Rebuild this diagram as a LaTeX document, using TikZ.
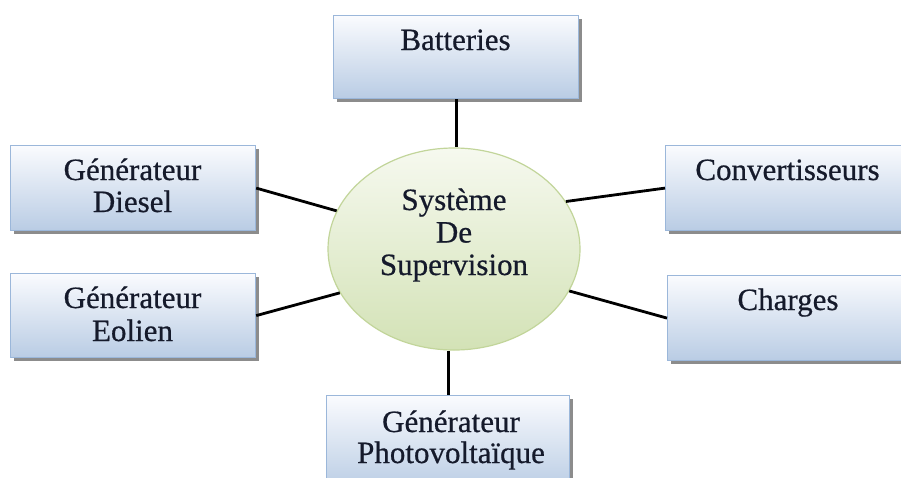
\documentclass[tikz,border=0pt]{standalone}
\usepackage{fontspec}
\setmainfont{Liberation Serif}[FakeBold=0.6]
\newfontfamily\lblfont{Liberation Serif}[FakeBold=0.6]
\usetikzlibrary{shapes.geometric,shadows}
\definecolor{boxtop}{HTML}{FAFBFE}
\definecolor{boxbot}{HTML}{B9CCE4}
\definecolor{boxline}{HTML}{9BB7DA}
\definecolor{elltop}{HTML}{F6F9EF}
\definecolor{ellbot}{HTML}{D3E2B6}
\definecolor{ellline}{HTML}{C2D59A}
\definecolor{txtcol}{HTML}{151A2B}
\tikzset{
  boxnode/.style={rectangle, draw=boxline, line width=1.2pt, top color=boxtop, bottom color=boxbot,
    inner sep=0pt, anchor=north west,
    general shadow={fill=black!45, shadow xshift=3pt, shadow yshift=-3pt}},
  sysnode/.style={ellipse, draw=ellline, line width=1.2pt, top color=elltop, bottom color=ellbot,
    inner sep=0pt, minimum width=252pt, minimum height=202pt},
  lbl/.style={anchor=base, inner sep=0pt, text=txtcol, font=\lblfont\fontsize{31}{33}\selectfont},
  link/.style={line width=2.8pt, black}
}
\begin{document}
\begin{tikzpicture}[x=1pt,y=-1pt]
\useasboundingbox (0,0) rectangle (901,477);
\clip (0,0) rectangle (901,477);
\fill[white] (0,0) rectangle (901,477);
% boxes
\node[boxnode, minimum width=245pt, minimum height=83pt] (bat) at (333,15) {};
\node[boxnode, minimum width=245pt, minimum height=85pt] (dies) at (10,145) {};
\node[boxnode, minimum width=245pt, minimum height=84pt] (eol) at (10,273) {};
\node[boxnode, minimum width=245pt, minimum height=85pt] (conv) at (665,145) {};
\node[boxnode, minimum width=245pt, minimum height=85pt] (chg) at (667,275) {};
\node[boxnode, minimum width=243pt, minimum height=95pt] (pv) at (326,395) {};
% central ellipse
\node[sysnode] (sys) at (454,249) {};
% connectors
\draw[link] (bat.south) -- (bat.south |- sys.north);
\draw[link] (dies.east) -- (sys.162);
\draw[link] (eol.east) -- (sys.201);
\draw[link] (conv.west) -- (sys.23);
\draw[link] (chg.west) -- (sys.340);
\draw[link] (pv.north) -- (pv.north |- sys.south);
% labels
\node[lbl] (tbat) at (455.5,50) {Batteries};
\node[lbl] (tdies1) at (132.5,180) {Générateur};
\node[lbl] (tdies2) at (132.5,212) {Diesel};
\node[lbl] (teol1) at (132.5,308) {Générateur};
\node[lbl] (teol2) at (132.5,341) {Eolien};
\node[lbl] (tconv) at (787.5,180) {Convertisseurs};
\node[lbl] (tchg) at (788,310) {Charges};
\node[lbl] (tpv1) at (451,432) {Générateur};
\node[lbl] (tpv2) at (451,463) {Photovoltaïque};
\node[lbl] (tsys1) at (454,210) {Système};
\node[lbl] (tsys2) at (454,242.5) {De};
\node[lbl] (tsys3) at (454,275) {Supervision};
\end{tikzpicture}
\end{document}
